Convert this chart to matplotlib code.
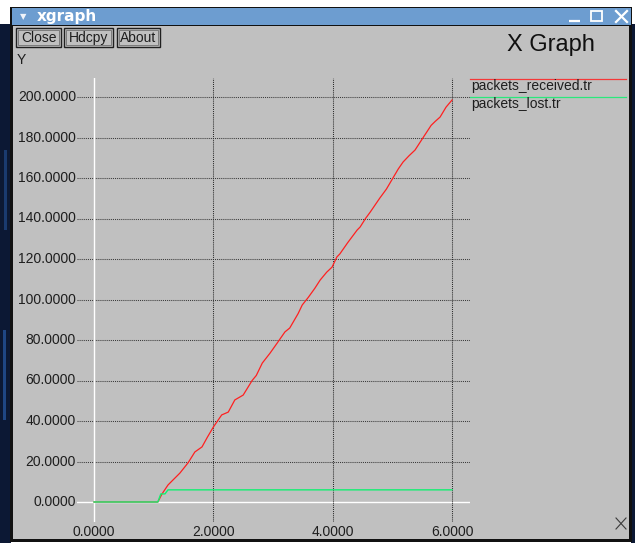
import matplotlib
matplotlib.use("Agg")
import matplotlib.pyplot as plt
from matplotlib.patches import Rectangle

# Series data
recv_x = [0.0, 1.07, 1.14, 1.24, 1.44, 1.58, 1.69, 1.81, 1.90, 2.0, 2.14, 2.25, 2.36,
          2.5, 2.65, 2.72, 2.82, 2.95, 3.07, 3.20, 3.28, 3.42, 3.49, 3.59, 3.70,
          3.79, 3.90, 3.99, 4.07, 4.12, 4.25, 4.41, 4.46, 4.55, 4.63, 4.79, 4.90,
          5.01, 5.10, 5.18, 5.28, 5.38, 5.51, 5.65, 5.72, 5.80, 5.90, 6.0]
recv_y = [0.0, 0.0, 4.0, 8.4, 14.3, 19.5, 24.7, 27.2, 32.0, 37.0, 43.0, 44.4, 50.4,
          52.8, 60.0, 62.5, 68.6, 73.5, 78.5, 84.0, 85.9, 93.0, 97.3, 101.0, 105.5,
          109.6, 113.5, 116.0, 121.0, 122.5, 128.0, 134.3, 135.8, 140.0, 143.2, 150.1, 154.5,
          160.0, 164.5, 167.9, 171.0, 173.8, 179.7, 186.0, 188.0, 190.1, 195.0, 198.5]
lost_x = [0.0, 1.07, 1.12, 1.19, 1.24, 6.0]
lost_y = [0.0, 0.0, 4.0, 4.0, 6.0, 6.0]

x_ticks = [0, 2, 4, 6]
y_ticks = [0, 20, 40, 60, 80, 100, 120, 140, 160, 180, 200]
series_names = ["packets_received.tr", "packets_lost.tr"]
series_colors = ["#ff2020", "#10f070"]

W, H = 635, 543
FONT = ["Liberation Sans", "DejaVu Sans"]
TXT = "#1e1e1e"
GRAY = "#c0c0c0"

fig = plt.figure(figsize=(W / 100, H / 100), dpi=100)
fig.patch.set_facecolor("white")

# Window frame drawn in pixel coordinates
bg = fig.add_axes([0, 0, 1, 1])
bg.set_xlim(0, W)
bg.set_ylim(H, 0)
bg.axis("off")

def rect(x0, y0, x1, y1, color, **kw):
    bg.add_patch(Rectangle((x0, y0), x1 - x0, y1 - y0, facecolor=color,
                           edgecolor="none", **kw))

rect(0, 24, 11, 543, "#0c1834")
rect(4, 150, 7, 230, "#1a3a70")
rect(3, 330, 6, 420, "#1f4684")
rect(631, 24, 635, 543, "#0c1834")
rect(10, 7, 632, 542, "#111111")
rect(13, 26, 629, 539, GRAY)
rect(12, 8, 631, 25, "#6d9dd0")

# Title bar
bg.text(20, 16.5, "\u25BC", color="#f0f4fa", fontsize=6, family="DejaVu Sans",
        ha="left", va="center")
bg.text(37, 16, "xgraph", color="white", fontsize=11, weight="bold",
        family="DejaVu Sans", ha="left", va="center")
bg.plot([569, 580], [21, 21], color="white", lw=1.6, solid_capstyle="butt")
bg.add_patch(Rectangle((591, 11), 11, 10, facecolor="none", edgecolor="white", lw=1.3))
bg.plot([616, 627], [11, 22], color="white", lw=1.6)
bg.plot([616, 627], [22, 11], color="white", lw=1.6)

# Buttons
for label, x0, x1 in [("Close", 16, 61), ("Hdcpy", 64, 113), ("About", 117, 160)]:
    bg.add_patch(Rectangle((x0, 28), x1 - x0, 19, facecolor=GRAY,
                           edgecolor="#202020", lw=1.0))
    bg.add_patch(Rectangle((x0 + 2, 30), x1 - x0 - 4, 15, facecolor="none",
                           edgecolor="#707070", lw=0.6))
    bg.text((x0 + x1) / 2, 38, label, color=TXT, fontsize=10, family=FONT,
            ha="center", va="center")

bg.text(17, 60, "Y", color=TXT, fontsize=10, family=FONT, ha="left", va="center")
bg.text(551, 45, "X Graph", color="#101010", fontsize=17, family=FONT,
        ha="center", va="center")

# Legend
for i, (name, col) in enumerate(zip(series_names, series_colors)):
    yl = 79 + 18 * i
    bg.plot([470, 626], [yl, yl], color=col, lw=0.9, alpha=0.85)
    bg.text(471, yl + 7, name, color=TXT, fontsize=10, family=FONT,
            ha="left", va="center")

# Small cross in the lower right corner
bg.plot([616, 626], [518, 529], color="#3a3a3a", lw=0.8)
bg.plot([616, 626], [529, 518], color="#3a3a3a", lw=0.8)

# Plot area
px_per_x = 59.67
px_per_y = 2.025
x0_px, y0_px = 94, 502
left_px, right_px, top_px, bot_px = 77, 470, 78, 522
ax = fig.add_axes([left_px / W, (H - bot_px) / H, (right_px - left_px) / W,
                   (bot_px - top_px) / H])
ax.set_xlim((left_px - x0_px) / px_per_x, (right_px - x0_px) / px_per_x)
ax.set_ylim((y0_px - bot_px) / px_per_y, (y0_px - top_px) / px_per_y)
ax.patch.set_alpha(0)
for s in ax.spines.values():
    s.set_visible(False)
ax.set_xticks([])
ax.set_yticks([])

xl = ax.get_xlim()
yl_ = ax.get_ylim()
dots = (0, (1, 1))
for yv in y_ticks:
    if yv == 0:
        ax.plot(xl, [yv, yv], color="white", lw=1.0)
    else:
        ax.plot(xl, [yv, yv], color="#3a3a3a", lw=0.75, ls=dots)
for xv in x_ticks:
    if xv == 0:
        ax.plot([xv, xv], yl_, color="white", lw=1.0)
    else:
        ax.plot([xv, xv], yl_, color="#2a2a2a", lw=0.75, ls=dots)

ax.plot(recv_x, recv_y, color=series_colors[0], lw=0.9)
ax.plot(lost_x, lost_y, color=series_colors[1], lw=1.0)

# Tick labels
for yv in y_ticks:
    bg.text(left_px - 1, y0_px - yv * px_per_y, f"{yv:.4f}", color=TXT,
            fontsize=10, family=FONT, ha="right", va="center")
for xv in x_ticks:
    bg.text(x0_px + xv * px_per_x, 532, f"{xv:.4f}", color=TXT,
            fontsize=10, family=FONT, ha="center", va="center")

fig.savefig("out.png", dpi=100)
